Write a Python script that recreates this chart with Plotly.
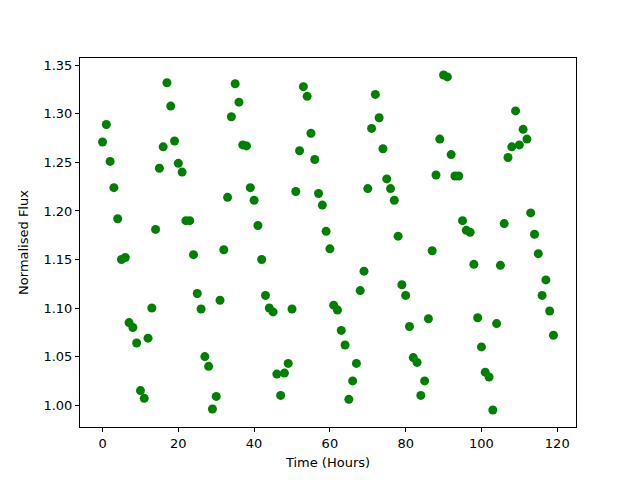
import plotly.graph_objects as go

hours = list(range(120))
flux = [
    1.271, 1.289, 1.251, 1.224, 1.192, 1.150, 1.152, 1.085, 1.080, 1.064,
    1.015, 1.007, 1.069, 1.100, 1.181, 1.244, 1.266, 1.332, 1.308, 1.272,
    1.249, 1.240, 1.190, 1.190, 1.155, 1.115, 1.099, 1.050, 1.040, 0.996,
    1.009, 1.108, 1.160, 1.214, 1.297, 1.331, 1.312, 1.268, 1.267, 1.224,
    1.211, 1.185, 1.150, 1.113, 1.100, 1.096, 1.032, 1.010, 1.033, 1.043,
    1.099, 1.220, 1.262, 1.328, 1.318, 1.280, 1.253, 1.218, 1.206, 1.179,
    1.161, 1.103, 1.098, 1.077, 1.062, 1.006, 1.025, 1.043, 1.118, 1.138,
    1.223, 1.285, 1.320, 1.296, 1.264, 1.233, 1.223, 1.211, 1.174, 1.124,
    1.113, 1.081, 1.049, 1.044, 1.010, 1.025, 1.089, 1.159, 1.237, 1.274,
    1.340, 1.338, 1.258, 1.236, 1.236, 1.190, 1.180, 1.178, 1.145, 1.090,
    1.060, 1.034, 1.029, 0.995, 1.084, 1.144, 1.187, 1.255, 1.266, 1.303,
    1.268, 1.284, 1.274, 1.198, 1.176, 1.156, 1.113, 1.129, 1.097, 1.072,
]
x_ticks = [0, 20, 40, 60, 80, 100, 120]
y_ticks = [1.00, 1.05, 1.10, 1.15, 1.20, 1.25, 1.30, 1.35]

fig = go.Figure(go.Scatter(
    x=hours, y=flux, mode="markers",
    marker=dict(color="#008000", size=9, line=dict(width=0)),
))

axis_common = dict(
    showgrid=False, zeroline=False, showline=True, linecolor="black",
    linewidth=1, mirror=True, ticks="outside", ticklen=4, tickcolor="black",
    automargin=False,
    tickfont=dict(family="DejaVu Sans", size=13, color="black"),
    title_font=dict(family="DejaVu Sans", size=13, color="black"),
)
fig.update_xaxes(range=[-5.95, 124.95], tickvals=x_ticks,
                 ticktext=[str(v) for v in x_ticks],
                 title_text="Time (Hours)", title_standoff=8, **axis_common)
fig.update_yaxes(range=[0.9775, 1.3575], tickvals=y_ticks,
                 ticktext=[f"{v:.2f}" for v in y_ticks],
                 title_text="Normalised Flux", title_standoff=11, **axis_common)
fig.update_layout(
    width=640, height=480, showlegend=False,
    margin=dict(l=72, r=72, t=50, b=61),
    plot_bgcolor="white", paper_bgcolor="white",
    font=dict(family="DejaVu Sans", size=13, color="black"),
)
fig.write_html("out.html")
